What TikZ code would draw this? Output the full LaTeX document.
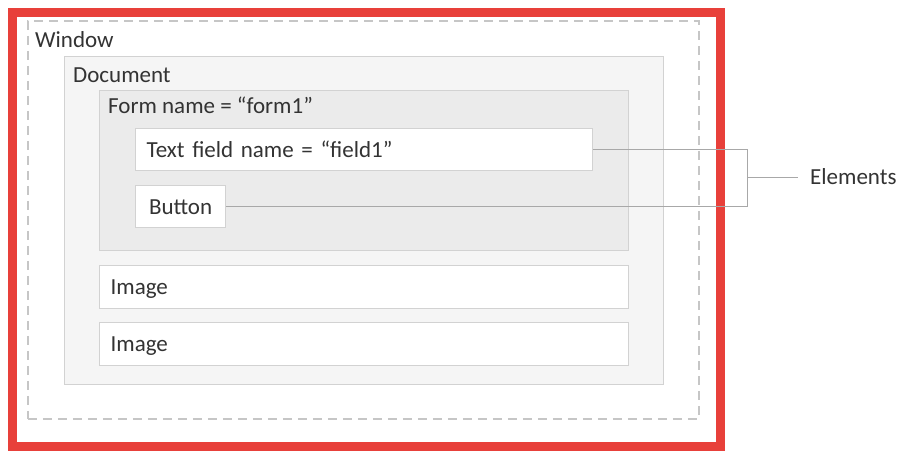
\documentclass[tikz,border=0pt]{standalone}
\usepackage{fontspec}
\setmainfont{Carlito}
\definecolor{redb}{HTML}{E8403A}
\definecolor{txt}{HTML}{333333}
\definecolor{bord}{HTML}{D2D2D2}
\definecolor{docfill}{HTML}{F5F5F5}
\definecolor{formfill}{HTML}{EBEBEB}
\definecolor{conn}{HTML}{A8A8A8}
\begin{document}
\begin{tikzpicture}[x=1pt,y=-1pt,
  every node/.style={font=\fontsize{23}{27}\selectfont, text=txt},
  container/.style={draw=bord, line width=1.2pt, anchor=north west, inner sep=0pt},
  leaf/.style={draw=bord, fill=white, line width=1.2pt, anchor=north west, inner xsep=11pt, inner ysep=0pt, align=left, text height=14.8pt, text depth=0pt},
  lbl/.style={anchor=west, inner sep=0pt, text height=14.8pt, text depth=0pt},
  connline/.style={draw=conn, line width=1pt}]
\useasboundingbox (0,0) rectangle (908,453);
\fill[white] (0,0) rectangle (908,453);
% outer red window frame
\node[draw=redb, line width=9pt, anchor=north west, inner sep=0pt, minimum width=708pt, minimum height=434.5pt] (frame) at (7.5,7.5) {};
% dashed window
\node[draw=bord!85!gray, dash pattern=on 9pt off 6pt, line width=1.5pt, anchor=north west, inner sep=0pt, minimum width=671pt, minimum height=398pt] (win) at (27,20) {};
\node[lbl] (winl) at (35,40.5) {Window};
% document
\node[container, fill=docfill, minimum width=599pt, minimum height=328pt] (doc) at (64,56) {};
\node[lbl] (docl) at (73,75) {Document};
% form
\node[container, fill=formfill, minimum width=529pt, minimum height=160pt] (form) at (99,90) {};
\node[lbl] (forml) at (108,106.5) {Form name = “form1”};
% leaves
\node[leaf, minimum width=457pt, minimum height=42pt, text width=435pt] (tf) at (135,128) {Text field name = “field1”};
\node[leaf, minimum width=90pt, minimum height=42pt] (btn) at (135,185) {Button};
\node[leaf, minimum width=529pt, minimum height=43pt, text width=507pt] (img1) at (99,265) {Image};
\node[leaf, minimum width=529pt, minimum height=43pt, text width=507pt] (img2) at (99,322) {Image};
% elements bracket
\coordinate (j) at (747,177);
\node[anchor=west, inner xsep=12pt, inner ysep=0pt, text height=14.8pt, text depth=0pt] (el) at (798,177.5) {Elements};
\draw[connline] (tf.east) -| (j);
\draw[connline] (btn.east) -| (j);
\draw[connline] (j) -- (j -| el.west);
\end{tikzpicture}
\end{document}
